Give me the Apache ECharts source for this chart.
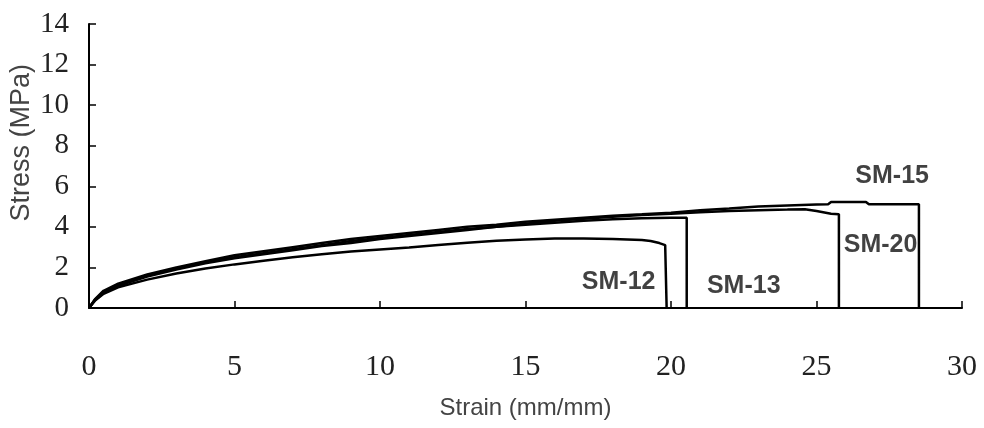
<!DOCTYPE html>
<html>
<head>
<meta charset="utf-8">
<script src="https://cdn.jsdelivr.net/npm/echarts@6/dist/echarts.min.js"></script>
<style>html,body{margin:0;padding:0;background:#fff;}#c{width:984px;height:428px;}</style>
</head>
<body>
<div id="c"></div>
<script>
var xTicks = [0, 5, 10, 15, 20, 25, 30];
var yTicks = [0, 2, 4, 6, 8, 10, 12, 14];

var sm12Strain = [0, 0.2, 0.5, 1, 2, 3, 4, 5, 6, 7, 8, 9, 10, 11, 12, 13, 14, 15, 16, 17, 18, 19, 19.3, 19.6, 19.8, 19.85, 19.85];
var sm12Stress = [0, 0.35, 0.7, 1.02, 1.4, 1.7, 1.95, 2.15, 2.33, 2.5, 2.65, 2.78, 2.88, 2.98, 3.1, 3.22, 3.32, 3.38, 3.42, 3.42, 3.4, 3.35, 3.3, 3.2, 3.1, 3.05, 0];

var sm13Strain = [0, 0.2, 0.5, 1, 2, 3, 4, 5, 6, 7, 8, 9, 10, 11, 12, 13, 14, 15, 16, 17, 18, 19, 20, 20.54, 20.54];
var sm13Stress = [0, 0.4, 0.8, 1.15, 1.6, 1.95, 2.25, 2.5, 2.7, 2.9, 3.1, 3.3, 3.45, 3.6, 3.75, 3.9, 4.0, 4.1, 4.2, 4.3, 4.38, 4.42, 4.45, 4.45, 0];

var sm20Strain = [0, 0.2, 0.5, 1, 2, 3, 4, 5, 6, 7, 8, 9, 10, 11, 12, 13, 14, 15, 16, 17, 18, 19, 20, 21, 22, 23, 24, 24.6, 25, 25.5, 25.77, 25.77];
var sm20Stress = [0, 0.38, 0.75, 1.1, 1.55, 1.9, 2.2, 2.45, 2.65, 2.85, 3.05, 3.2, 3.4, 3.55, 3.7, 3.85, 4.0, 4.15, 4.3, 4.4, 4.5, 4.58, 4.65, 4.72, 4.78, 4.82, 4.85, 4.87, 4.78, 4.65, 4.62, 0];

var sm15Strain = [0, 0.2, 0.5, 1, 2, 3, 4, 5, 6, 7, 8, 9, 10, 11, 12, 13, 14, 15, 16, 17, 18, 19, 20, 21, 22, 23, 24, 25, 25.4, 25.5, 26.7, 26.8, 28.52, 28.52];
var sm15Stress = [0, 0.42, 0.85, 1.2, 1.65, 2.0, 2.3, 2.6, 2.8, 3.0, 3.2, 3.4, 3.55, 3.7, 3.85, 4.0, 4.1, 4.25, 4.35, 4.45, 4.55, 4.62, 4.7, 4.82, 4.9, 5.0, 5.05, 5.1, 5.12, 5.23, 5.23, 5.12, 5.12, 0];

var labelNames = ['SM-12', 'SM-13', 'SM-20', 'SM-15'];
var labelStrain = [18.2, 22.5, 27.2, 27.6];
var labelStress = [1.3, 1.1, 3.1, 6.5];

function pairs(xs, ys) { return xs.map(function (x, i) { return [x, ys[i]]; }); }

var lineStyle = { color: '#000', width: 2.5 };
function lineSeries(name, xs, ys) {
  return { name: name, type: 'line', data: pairs(xs, ys), showSymbol: false, symbol: 'none',
           lineStyle: lineStyle, animation: false, z: 3 };
}

var chart = echarts.init(document.getElementById('c'), null, { renderer: 'canvas' });
chart.setOption({
  animation: false,
  backgroundColor: '#fff',
  grid: { left: 89, right: 22, top: 24, bottom: 120, containLabel: false },
  xAxis: {
    type: 'value', min: 0, max: 30, interval: 5,
    name: 'Strain (mm/mm)', nameLocation: 'middle', nameGap: 88,
    nameTextStyle: { fontFamily: 'Liberation Sans, Arial', fontSize: 24, color: '#444' },
    axisLine: { show: true, onZero: false, lineStyle: { color: '#000', width: 2 } },
    axisTick: { show: true, inside: true, length: 7, lineStyle: { color: '#000', width: 1.5 } },
    axisLabel: { margin: 44, fontFamily: 'Liberation Serif, Times New Roman', fontSize: 30, color: '#222',
                 formatter: function (v) { return xTicks.indexOf(v) >= 0 ? String(v) : ''; } },
    splitLine: { show: false }
  },
  yAxis: {
    type: 'value', min: 0, max: 14, interval: 2,
    axisLine: { show: true, lineStyle: { color: '#000', width: 2 } },
    axisTick: { show: true, inside: true, length: 7, lineStyle: { color: '#000', width: 1.5 } },
    axisLabel: { margin: 20, fontFamily: 'Liberation Serif, Times New Roman', fontSize: 29, color: '#222',
                 formatter: function (v) { return yTicks.indexOf(v) >= 0 ? String(v) : ''; } },
    splitLine: { show: false }
  },
  graphic: [{
    type: 'text', left: 8, top: 64, rotation: Math.PI / 2,
    style: { text: 'Stress (MPa)', font: '27px "Liberation Sans", Arial', fill: '#444' }
  }],
  series: [
    lineSeries('SM-12', sm12Strain, sm12Stress),
    lineSeries('SM-13', sm13Strain, sm13Stress),
    lineSeries('SM-20', sm20Strain, sm20Stress),
    lineSeries('SM-15', sm15Strain, sm15Stress),
    {
      type: 'scatter', symbolSize: 0, animation: false, z: 5,
      data: labelNames.map(function (n, i) { return { value: [labelStrain[i], labelStress[i]], name: n }; }),
      label: { show: true, position: 'inside', formatter: '{b}',
               fontFamily: 'Liberation Sans, Arial', fontWeight: 'bold', fontSize: 25, color: '#111' }
    }
  ]
});
</script>
</body>
</html>
